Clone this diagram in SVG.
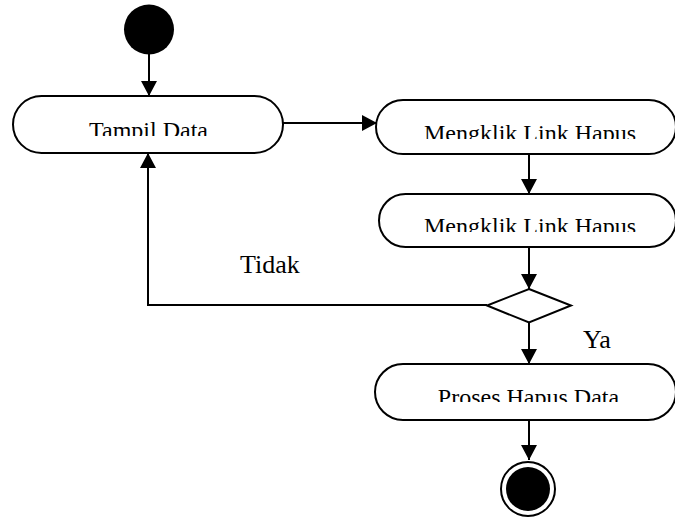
<svg xmlns="http://www.w3.org/2000/svg" width="675" height="517" viewBox="0 0 675 517">
<style>
.node{fill:#fff;stroke:#000;stroke-width:2}
.lbl{font-family:"Liberation Serif","Times New Roman",serif;font-size:24px;fill:#000;text-anchor:middle}
.edge{fill:none;stroke:#000;stroke-width:2}
.txt{font-family:"Liberation Serif","Times New Roman",serif;font-size:26px;fill:#000}
</style>
<defs>
<marker id="ah" markerWidth="15" markerHeight="16" refX="15" refY="8" orient="auto" markerUnits="userSpaceOnUse">
<path d="M0,0 L15,8 L0,16 Z" fill="#000"/>
</marker>
<clipPath id="c1"><rect x="0" y="0" width="675" height="136"/></clipPath>
<clipPath id="c2"><rect x="0" y="0" width="675" height="139"/></clipPath>
<clipPath id="c3"><rect x="0" y="0" width="675" height="232"/></clipPath>
<clipPath id="c4"><rect x="0" y="0" width="675" height="402"/></clipPath>
</defs>
<g id="connectors">
<line class="edge" x1="149" y1="54" x2="149" y2="96" marker-end="url(#ah)"/>
<line class="edge" x1="283" y1="123" x2="377" y2="123" marker-end="url(#ah)"/>
<line class="edge" x1="529" y1="155" x2="529" y2="194" marker-end="url(#ah)"/>
<line class="edge" x1="529" y1="247" x2="529" y2="289" marker-end="url(#ah)"/>
<polyline class="edge" points="487,305 148,305 148,153" marker-end="url(#ah)"/>
<line class="edge" x1="529" y1="323" x2="529" y2="364" marker-end="url(#ah)"/>
<line class="edge" x1="529" y1="420" x2="529" y2="460" marker-end="url(#ah)"/>
<text class="txt" x="240" y="273">Tidak</text>
<text class="txt" x="583" y="348">Ya</text>
</g>
<g id="start"><circle cx="149" cy="29.5" r="25" fill="#000"/></g>
<g id="tampil">
<rect class="node" x="13" y="96" width="270" height="57" rx="28.5"/>
<text class="lbl" x="148.5" y="138" clip-path="url(#c1)">Tampil Data</text>
</g>
<g id="klik1">
<rect class="node" x="376" y="100" width="300" height="54" rx="27"/>
<text class="lbl" x="530" y="141" clip-path="url(#c2)">Mengklik Link Hapus</text>
</g>
<g id="klik2">
<rect class="node" x="379" y="194" width="297" height="53" rx="26.5"/>
<text class="lbl" x="530" y="234" clip-path="url(#c3)">Mengklik Link Hapus</text>
</g>
<g id="decision"><polygon class="node" points="529,289 571,305.5 529,322.5 487,305.5"/></g>
<g id="proses">
<rect class="node" x="375" y="364" width="301" height="56" rx="28"/>
<text class="lbl" x="528.5" y="405" clip-path="url(#c4)">Proses Hapus Data</text>
</g>
<g id="end">
<circle cx="528" cy="489" r="27" fill="#fff" stroke="#000" stroke-width="2"/>
<circle cx="528" cy="489" r="22" fill="#000"/>
</g>
</svg>
